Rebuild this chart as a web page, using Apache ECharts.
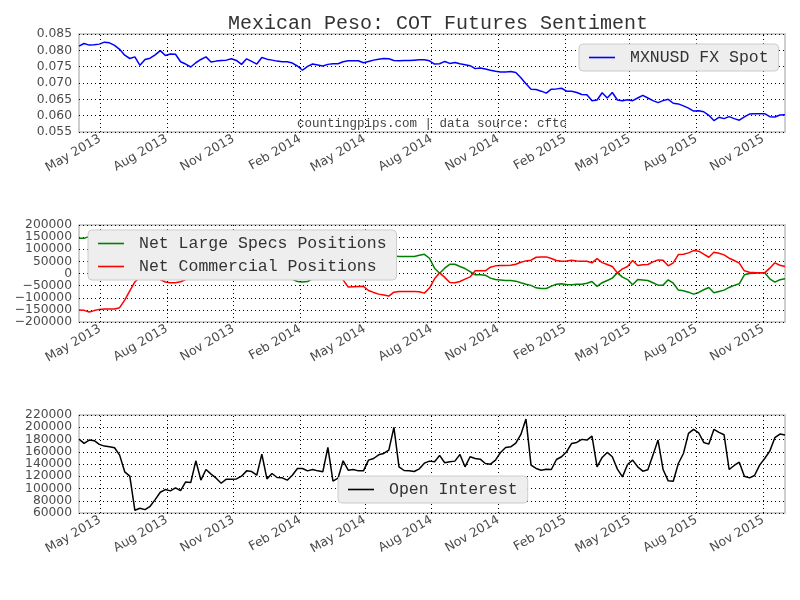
<!DOCTYPE html>
<html><head><meta charset="utf-8">
<script src="https://cdn.jsdelivr.net/npm/echarts@6/dist/echarts.min.js"></script>
<style>html,body{margin:0;padding:0;background:#fff}#c{width:800px;height:600px}</style>
</head><body><div id="c"></div>
<script>
// weekly COT report dates: first report and count
const startDate = '2013-04-02';
const weekCount = 140;
const tickDates = ['2013-05-01','2013-08-01','2013-11-01','2014-02-01','2014-05-01','2014-08-01','2014-11-01','2015-02-01','2015-05-01','2015-08-01','2015-11-01'];
const monthNames = ['Jan','Feb','Mar','Apr','May','Jun','Jul','Aug','Sep','Oct','Nov','Dec'];

const spot = [0.0813,0.0821,0.0816,0.0817,0.0819,0.0825,0.0823,0.0815,0.0803,0.0785,0.0775,0.0780,0.0754,0.0772,0.0776,0.0786,0.0799,0.0784,0.0789,0.0788,
0.0765,0.0758,0.0749,0.0762,0.0772,0.0780,0.0764,0.0767,0.0769,0.0770,0.0774,0.0769,0.0757,0.0774,0.0766,0.0758,0.0778,0.0773,0.0770,0.0767,
0.0765,0.0765,0.0761,0.0752,0.0739,0.0751,0.0758,0.0755,0.0752,0.0757,0.0759,0.0759,0.0765,0.0768,0.0768,0.0768,0.0762,0.0766,0.0770,0.0773,
0.0775,0.0774,0.0769,0.0768,0.0769,0.0769,0.0770,0.0771,0.0771,0.0768,0.0758,0.0759,0.0766,0.0760,0.0763,0.0759,0.0756,0.0753,0.0744,0.0746,
0.0743,0.0739,0.0736,0.0734,0.0734,0.0735,0.0732,0.0716,0.0698,0.0681,0.0680,0.0675,0.0669,0.0681,0.0682,0.0684,0.0675,0.0675,0.0671,0.0665,
0.0664,0.0646,0.0648,0.0670,0.0654,0.0671,0.0648,0.0646,0.0649,0.0646,0.0654,0.0662,0.0654,0.0646,0.0640,0.0646,0.0650,0.0638,0.0636,0.0630,
0.0623,0.0614,0.0615,0.0612,0.0601,0.0585,0.0595,0.0591,0.0597,0.0591,0.0586,0.0596,0.0605,0.0606,0.0606,0.0606,0.0597,0.0596,0.0602,0.0603];

const largeSpecs = [145000,145000,153000,150000,145000,143000,143000,143000,138000,120000,80000,45000,25000,20000,22000,25000,28000,32000,35000,36000,
32000,22000,18000,14000,9000,5000,0,-4000,-2000,-7000,-10000,-9000,-13000,-16000,-12000,-15000,-17000,-18000,-17000,-19000,
-20000,-21000,-24000,-33000,-35000,-33000,-21000,-14000,-8000,-3000,5000,12000,25000,50000,52000,52000,52000,65000,72000,78000,
82000,85000,72000,70000,70000,70000,70000,75000,79000,63000,22000,1400,22000,38000,38000,29000,20500,8000,-5500,-5500,
-7000,-19000,-25000,-27000,-29000,-29000,-31500,-38000,-44000,-49000,-59000,-62000,-62000,-52000,-44000,-42500,-45000,-46600,-44000,-44000,
-40000,-33000,-53000,-38000,-29000,-19000,2700,-15000,-25000,-46600,-25000,-27000,-29000,-38000,-48000,-48000,-26000,-40000,-68500,-71000,
-77000,-85000,-78000,-67000,-57500,-79500,-74000,-68500,-57500,-49000,-42500,-5500,0,1400,2700,2700,-22000,-35600,-26000,-22000];

const commercial = [-150700,-152000,-159000,-153000,-148000,-146600,-146600,-146600,-141000,-110000,-72000,-35000,-15000,-10000,-12000,-18000,-25000,-35000,-38000,-38000,
-34000,-25000,-20000,-15000,-10000,-5000,0,5000,3000,8000,12000,10000,15000,18000,14000,20000,22000,25000,23000,27000,
30000,28000,32000,33000,35000,32000,25000,18000,10000,5000,0,-8000,-26000,-56000,-55000,-54000,-53000,-70000,-78000,-85000,
-89000,-93000,-77000,-74000,-74000,-74000,-74000,-75000,-81000,-60000,-22000,2700,-16000,-37000,-38000,-33000,-23000,-14000,11000,11000,
11000,26000,31500,33000,33000,34000,38000,46600,52000,55000,67000,68500,68500,61600,53500,50700,52000,55000,52000,50700,
50700,44000,61600,45000,37000,29000,2700,19000,29000,53500,33000,35600,37000,48000,56000,55000,31500,44000,78000,79500,
85000,94500,92000,79500,67000,87700,83500,76700,63000,53500,42500,11000,5500,4000,2700,2700,22000,44000,34000,29000];

const openInterest = [180700,173600,179000,178000,172000,169200,168100,166500,154500,127200,120100,64400,67700,65500,71000,81900,93900,98300,96100,101000,
96600,110800,109700,145200,113600,131000,123400,116800,108600,115200,115200,115700,120100,128800,127700,121700,156100,115700,124500,117900,
117400,113600,121700,132700,132700,128800,131000,128800,127200,167000,111900,116800,145200,129900,131000,128800,128800,146300,149000,155000,
157200,162700,199800,135400,129400,128800,127700,132100,141400,144700,143600,154000,142000,143600,144700,155600,135400,151800,149000,147900,
140800,139700,146300,158900,167000,168100,174100,188300,213400,138100,132700,129900,131600,131000,147400,151800,160000,173600,175200,180200,
179100,185600,135400,150700,158900,151800,131600,119000,139200,146300,135400,128300,130500,154500,179100,131000,112500,111900,140800,157200,
190000,196500,191000,175200,172500,196500,191600,187800,131000,137600,143000,120100,117400,121200,138100,149000,161000,182900,188900,187200];

const DAY = 86400000;
const t0 = Date.parse(startDate + 'T00:00:00Z');
const dates = [];
for (let i = 0; i < weekCount; i++) dates.push(t0 + i * 7 * DAY);
const tickTs = tickDates.map(d => Date.parse(d + 'T00:00:00Z'));
const pair = arr => arr.map((v, i) => [dates[i], v]);

const gridBox = [{top: 34, height: 98}, {top: 225, height: 97}, {top: 415, height: 98}];
const dotted = {type: [1, 3], color: '#000', width: 1};
const labelFont = {fontFamily: 'DejaVu Sans', fontSize: 12.5, color: '#4a4a4a'};
const mono = 'Liberation Mono';

function xAxis(gi) {
  return {
    type: 'value', gridIndex: gi, min: dates[0], max: dates[dates.length - 1],
    axisLine: {show: false}, axisTick: {show: false},
    splitLine: {show: false},
    axisLabel: Object.assign({}, labelFont, {
      customValues: tickTs, rotate: 30, margin: 6, fontSize: 12.5,
      formatter: v => { const d = new Date(v); return monthNames[d.getUTCMonth()] + ' ' + d.getUTCFullYear(); }
    })
  };
}
function yAxis(gi, min, max, interval, fmt) {
  return {
    type: 'value', gridIndex: gi, min, max, interval,
    axisLine: {show: false}, axisTick: {show: false},
    splitLine: {show: true, lineStyle: dotted},
    axisLabel: Object.assign({}, labelFont, {margin: 7, formatter: fmt, fontSize: 12.3, lineHeight: 10,
      showMinLabel: true, showMaxLabel: true})
  };
}
const intFmt = v => (v < 0 ? '\u2212' + Math.abs(v) : String(v));

// vertical dotted gridlines at tick dates, drawn beneath series
function vGrid(gi) {
  return {
    type: 'line', xAxisIndex: gi, yAxisIndex: gi, data: [], silent: true, z: 0,
    markLine: {silent: true, symbol: 'none', label: {show: false}, animation: false,
      lineStyle: dotted,
      data: tickTs.map(t => ({xAxis: t}))}
  };
}
function lineSeries(name, gi, arr, color) {
  return {name, type: 'line', xAxisIndex: gi, yAxisIndex: gi, data: pair(arr), showSymbol: false,
    symbol: 'none', lineStyle: {color, width: 1.5}, itemStyle: {color}, z: 3, animation: false};
}
const legendBase = {
  backgroundColor: '#eeeeee', borderColor: '#cccccc', borderWidth: 1, borderRadius: 4,
  icon: 'rect', itemWidth: 26, itemHeight: 1.6, z: 20,
  textStyle: {fontFamily: mono, fontSize: 16.5, color: '#333', padding: [0, 0, 0, 10]}
};

const chart = echarts.init(document.getElementById('c'));
chart.setOption({
  animation: false,
  backgroundColor: '#fff',
  title: {text: 'Mexican Peso: COT Futures Sentiment', left: 223, top: 9,
    textStyle: {fontFamily: mono, fontSize: 20, fontWeight: 'normal', color: '#333'}},
  grid: gridBox.map(g => ({left: 79, right: 15, top: g.top, height: g.height, show: true,
    borderColor: '#bfbfbf', borderWidth: 1.5, backgroundColor: 'transparent'})),
  xAxis: [xAxis(0), xAxis(1), xAxis(2)],
  yAxis: [
    yAxis(0, 0.055, 0.085, 0.005, v => v.toFixed(3)),
    yAxis(1, -200000, 200000, 50000, intFmt),
    yAxis(2, 60000, 220000, 20000, intFmt)
  ],
  legend: [
    Object.assign({}, legendBase, {data: ['MXNUSD FX Spot'], left: 579, top: 44, padding: [5, 10, 5, 10]}),
    Object.assign({}, legendBase, {data: ['Net Large Specs Positions', 'Net Commercial Positions'], orient: 'vertical',
      left: 88, top: 230, padding: [5, 10, 5, 10], itemGap: 6}),
    Object.assign({}, legendBase, {data: ['Open Interest'], left: 338, top: 476, padding: [5, 10, 5, 10]})
  ],
  graphic: [{type: 'text', left: 297, top: 117, z: 5,
    style: {text: 'countingpips.com | data source: cftc', font: '12.5px "Liberation Mono"', fill: '#444'}}],
  series: [
    vGrid(0), vGrid(1), vGrid(2),
    lineSeries('MXNUSD FX Spot', 0, spot, '#0000ff'),
    lineSeries('Net Large Specs Positions', 1, largeSpecs, '#008000'),
    lineSeries('Net Commercial Positions', 1, commercial, '#ff0000'),
    lineSeries('Open Interest', 2, openInterest, '#000000')
  ]
});
</script></body></html>
